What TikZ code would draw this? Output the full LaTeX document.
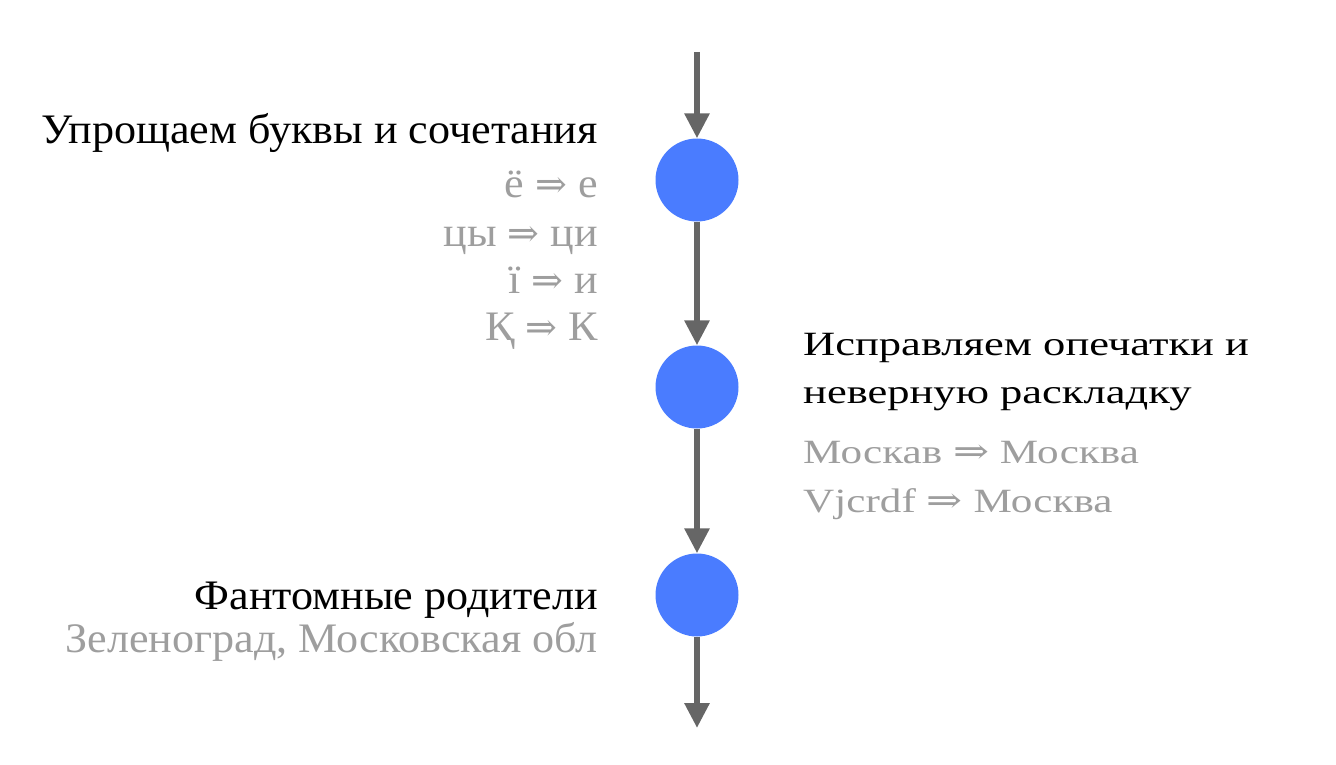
\documentclass[tikz,border=0pt]{standalone}
\usepackage{graphicx}
\usepackage{fontspec}
\setmainfont{Liberation Serif}
\newfontfamily\lfont[FakeStretch=1.05]{Liberation Serif}
\newfontfamily\rfont[FakeStretch=1.31]{Liberation Serif}
\newfontfamily\rnfont[FakeStretch=1.27]{Liberation Serif}
\newfontfamily\symfont{DejaVu Serif}
\usetikzlibrary{arrows.meta}
\definecolor{dotblue}{RGB}{74,124,255}
\definecolor{linegrey}{RGB}{102,102,102}
\definecolor{txtgrey}{RGB}{158,158,158}
\newcommand\larr{{\symfont\fontsize{38}{40}\selectfont ⇒}}
\newcommand\rarr{\scalebox{1}[0.82]{\symfont\fontsize{43}{48}\selectfont ⇒}}
\tikzset{
  dot/.style={circle,fill=dotblue,draw=none,minimum size=83pt,inner sep=0},
  flow/.style={draw=linegrey,line width=6pt,-{Triangle[width=24pt,length=25pt]}},
  ltitle/.style={anchor=base east,inner sep=0,font=\lfont\fontsize{42}{48}\selectfont,text=black},
  lnote/.style={anchor=base east,inner sep=0,font=\lfont\fontsize{42}{48}\selectfont,text=txtgrey},
  rtitle/.style={anchor=base west,inner sep=0,font=\rfont\fontsize{34}{40}\selectfont,text=black},
  rnote/.style={anchor=base west,inner sep=0,font=\rnfont\fontsize{34}{40}\selectfont,text=txtgrey},
}
\begin{document}
\begin{tikzpicture}[x=1pt,y=-1pt]
\useasboundingbox (0,0) rectangle (1336,765);
\coordinate (top) at (697,52);
\coordinate (bot) at (697,728);
\node[dot] (c1) at (697,180) {};
\node[dot] (c2) at (697,387) {};
\node[dot] (c3) at (697,595) {};
\draw[flow] (top) -- (c1);
\draw[flow] (c1) -- (c2);
\draw[flow] (c2) -- (c3);
\draw[flow] (c3) -- (bot);
\node[ltitle] (t1) at (598,143) {Упрощаем буквы и сочетания};
\node[lnote] (n1) at (598,197) {ё \larr{} е};
\node[lnote] (n2) at (598,246) {цы \larr{} ци};
\node[lnote] (n3) at (598,293) {ї \larr{} и};
\node[lnote] (n4) at (598,340) {Қ \larr{} К};
\node[rtitle] (t2a) at (803,355) {Исправляем опечатки и};
\node[rtitle] (t2b) at (803,403) {неверную раскладку};
\node[rnote] (n5) at (803,463) {Москав \rarr{} Москва};
\node[rnote] (n6) at (803,512) {Vjcrdf \rarr{} Москва};
\node[ltitle] (t3) at (598,609) {Фантомные родители};
\node[lnote] (n7) at (598,652) {Зеленоград, Московская обл};
\end{tikzpicture}
\end{document}
